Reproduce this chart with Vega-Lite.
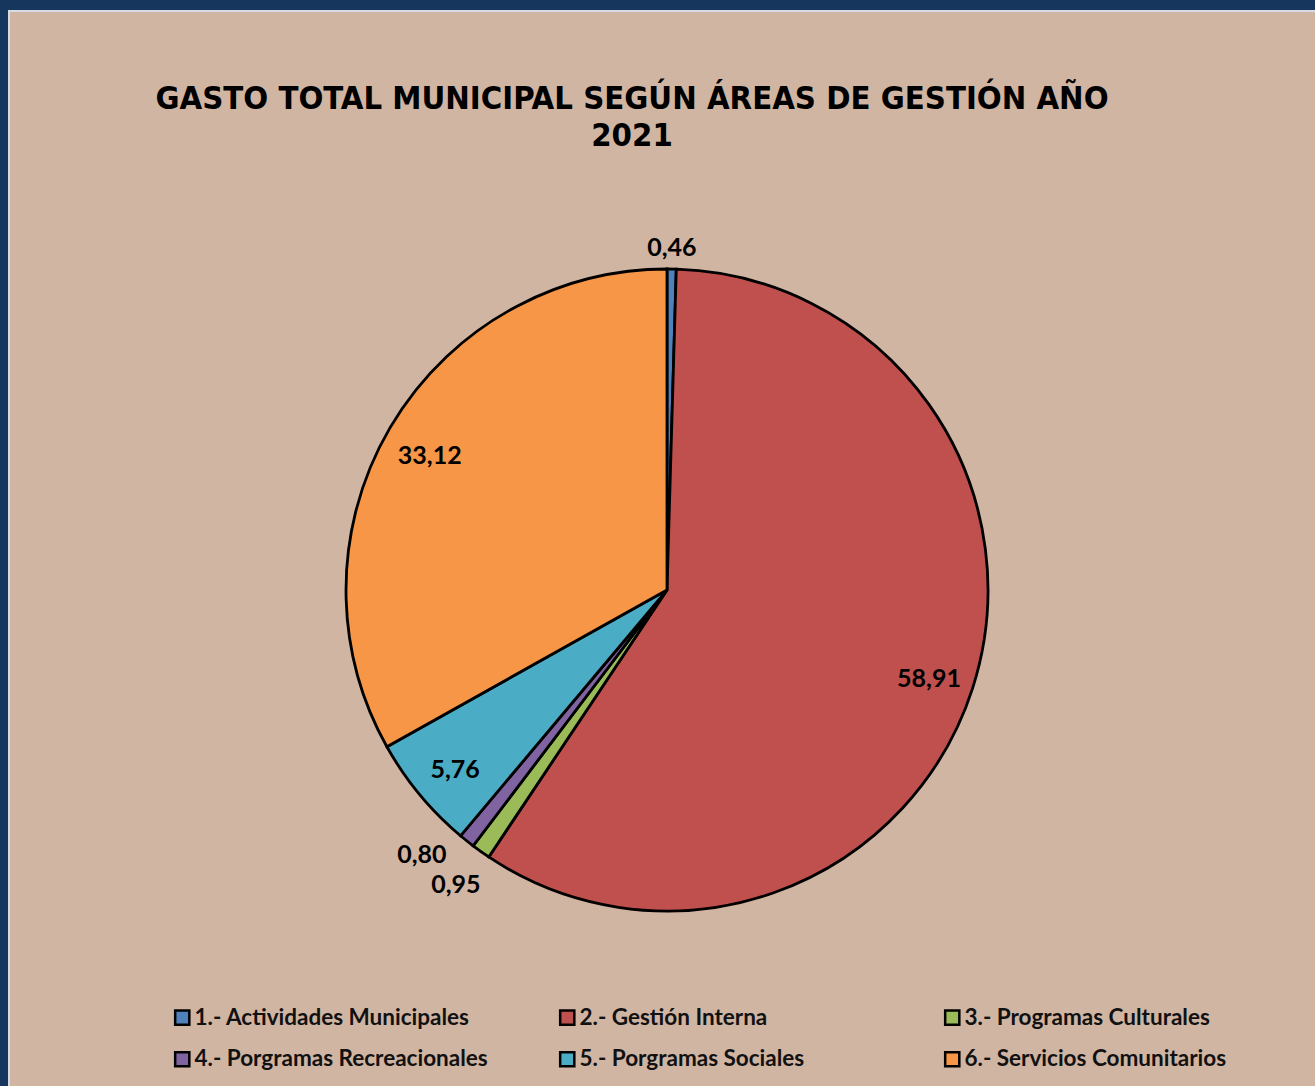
{
  "$schema": "https://vega.github.io/schema/vega-lite/v6.json",
  "autosize": {"type": "none"},
  "padding": {"left": 9, "top": 11, "right": 0, "bottom": 0},
  "background": "#17365D",
  "width": 1316,
  "height": 1158,
  "view": {"fill": "#D1B5A3", "stroke": "#D6DCE4", "strokeWidth": 2},
  "title": {
    "text": ["GASTO TOTAL MUNICIPAL SEGÚN ÁREAS DE GESTIÓN AÑO", "2021"],
    "anchor": "middle",
    "frame": "group",
    "baseline": "top",
    "offset": -142,
    "dx": -35,
    "font": "DejaVu Sans Condensed",
    "fontSize": 32.6,
    "fontWeight": "bold",
    "color": "#000000",
    "lineHeight": 37
  },
  "data": {
    "values": [
      {"area": "1.- Actividades Municipales", "valor": 0.46, "etiqueta": "0,46"},
      {"area": "2.- Gestión Interna", "valor": 58.91, "etiqueta": "58,91"},
      {"area": "3.- Programas Culturales", "valor": 0.95, "etiqueta": "0,95"},
      {"area": "4.- Porgramas Recreacionales", "valor": 0.80, "etiqueta": "0,80"},
      {"area": "5.- Porgramas Sociales", "valor": 5.76, "etiqueta": "5,76"},
      {"area": "6.- Servicios Comunitarios", "valor": 33.12, "etiqueta": "33,12"}
    ]
  },
  "encoding": {
    "theta": {"field": "valor", "type": "quantitative", "stack": true},
    "order": {"field": "area", "type": "nominal"}
  },
  "layer": [
    {
      "mark": {"type": "arc", "outerRadius": 321, "stroke": "#000000", "strokeWidth": 2.8},
      "encoding": {
        "color": {
          "field": "area",
          "type": "nominal",
          "sort": null,
          "scale": {
            "domain": ["1.- Actividades Municipales", "2.- Gestión Interna", "3.- Programas Culturales", "4.- Porgramas Recreacionales", "5.- Porgramas Sociales", "6.- Servicios Comunitarios"],
            "range": ["#4F81BD", "#C0504D", "#9BBB59", "#8064A2", "#4BACC6", "#F79646"]
          },
          "legend": {
            "title": null,
            "orient": "none",
            "legendX": 162,
            "legendY": 995,
            "direction": "horizontal",
            "columns": 3,
            "gridAlign": "all",
            "columnPadding": 67,
            "rowPadding": 17,
            "symbolType": "square",
            "symbolSize": 200,
            "symbolStrokeColor": "#000000",
            "symbolStrokeWidth": 2.5,
            "symbolOpacity": 1,
            "labelFont": "Lato",
            "labelFontSize": 22.5,
            "labelFontWeight": "bold",
            "labelColor": "#111111",
            "labelLimit": 400,
            "labelOffset": 1
          }
        }
      }
    },
    {
      "mark": {"type": "text", "radius": 275, "dy": 5, "font": "Lato", "fontSize": 25, "fontWeight": "bold", "color": "#000000"},
      "encoding": {"text": {"condition": {"test": "datum.valor > 5", "field": "etiqueta"}, "value": ""}}
    },
    {
      "mark": {"type": "text", "radius": 342, "font": "Lato", "fontSize": 25, "fontWeight": "bold", "color": "#000000"},
      "encoding": {"text": {"condition": {"test": "datum.area == '1.- Actividades Municipales'", "field": "etiqueta"}, "value": ""}}
    },
    {
      "mark": {"type": "text", "radius": 364, "dy": -2, "font": "Lato", "fontSize": 25, "fontWeight": "bold", "color": "#000000"},
      "encoding": {"text": {"condition": {"test": "datum.area == '3.- Programas Culturales'", "field": "etiqueta"}, "value": ""}}
    },
    {
      "mark": {"type": "text", "radius": 361, "dx": -20, "dy": -17, "font": "Lato", "fontSize": 25, "fontWeight": "bold", "color": "#000000"},
      "encoding": {"text": {"condition": {"test": "datum.area == '4.- Porgramas Recreacionales'", "field": "etiqueta"}, "value": ""}}
    }
  ]
}
